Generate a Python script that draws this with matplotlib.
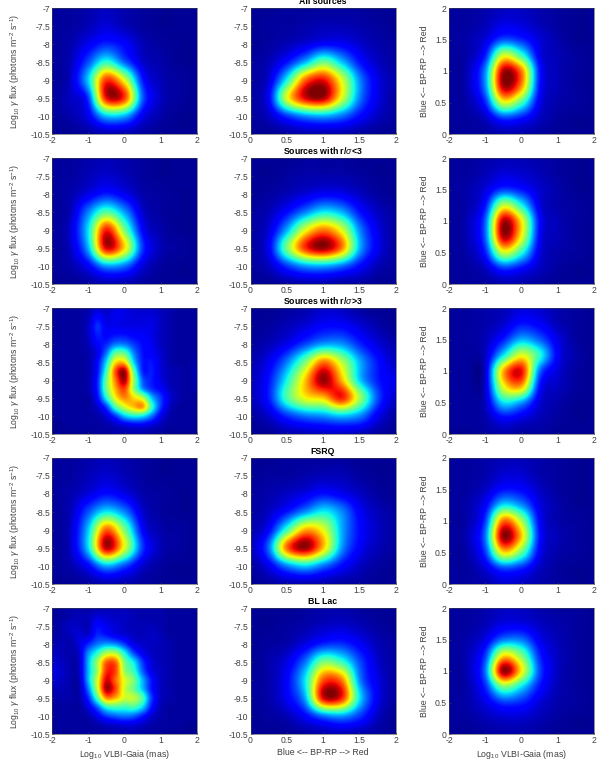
import matplotlib
matplotlib.use("Agg")
import matplotlib.pyplot as plt
import numpy as np

plt.rcParams["font.family"] = ["Liberation Sans", "DejaVu Sans"]
plt.rcParams["mathtext.fontset"] = "custom"
plt.rcParams["mathtext.rm"] = "Liberation Sans"
plt.rcParams["mathtext.it"] = "Liberation Sans:italic"
plt.rcParams["mathtext.bf"] = "Liberation Sans:bold"

flux_ticks = [-7, -7.5, -8, -8.5, -9, -9.5, -10, -10.5]
flux_labels = ["-7", "-7.5", "-8", "-8.5", "-9", "-9.5", "-10", "-10.5"]
offset_ticks = [-2, -1, 0, 1, 2]
offset_labels = ["-2", "-1", "0", "1", "2"]
color_ticks = [0, 0.5, 1, 1.5, 2]
color_labels = ["0", "0.5", "1", "1.5", "2"]

titles = ["All sources", "Sources with r/$\\sigma$<3", "Sources with r/$\\sigma$>3", "FSRQ", "BL Lac"]

# relative density (jet scale 0-100)
# rows run top to bottom, columns left to right, evenly over each axis
all_offset_flux = [
    [3, 3, 4, 6, 4, 3, 2, 2, 2],
    [3, 3, 5, 8, 5, 3, 2, 2, 2],
    [3, 4, 10, 16, 12, 5, 3, 2, 2],
    [3, 5, 20, 40, 22, 7, 4, 2, 2],
    [3, 6, 33, 85, 62, 15, 5, 3, 2],
    [3, 6, 18, 90, 85, 22, 6, 3, 2],
    [3, 4, 10, 32, 30, 10, 4, 2, 2],
    [2, 2, 3, 4, 4, 3, 2, 2, 2],
]
all_color_flux = [
    [2, 2, 3, 3, 3, 3, 3, 2, 2],
    [2, 3, 3, 4, 5, 5, 4, 3, 2],
    [2, 3, 5, 8, 12, 11, 7, 4, 3],
    [3, 5, 14, 30, 48, 32, 14, 6, 3],
    [3, 8, 38, 80, 90, 62, 26, 9, 4],
    [3, 12, 62, 92, 96, 62, 25, 9, 3],
    [3, 6, 18, 27, 30, 24, 13, 6, 3],
    [2, 2, 3, 4, 4, 4, 3, 2, 2],
]
all_offset_color = [
    [3, 3, 4, 6, 6, 4, 3, 2, 2],
    [3, 3, 5, 9, 8, 5, 3, 2, 2],
    [3, 4, 8, 20, 16, 8, 4, 2, 2],
    [3, 4, 15, 60, 42, 10, 5, 3, 2],
    [3, 5, 26, 95, 78, 15, 5, 3, 2],
    [3, 5, 26, 95, 75, 14, 5, 3, 2],
    [3, 4, 16, 62, 44, 10, 4, 3, 2],
    [3, 3, 6, 18, 14, 6, 3, 2, 2],
    [2, 3, 3, 4, 4, 3, 2, 2, 2],
]
low_offset_flux = [
    [3, 3, 4, 5, 4, 3, 2, 2, 2],
    [3, 3, 5, 7, 5, 3, 2, 2, 2],
    [3, 4, 9, 15, 10, 4, 3, 2, 2],
    [3, 5, 25, 45, 28, 7, 3, 2, 2],
    [3, 7, 35, 88, 50, 12, 4, 2, 2],
    [3, 6, 30, 92, 68, 18, 5, 3, 2],
    [3, 4, 11, 28, 24, 8, 3, 2, 2],
    [2, 2, 3, 4, 4, 3, 2, 2, 2],
]
low_color_flux = [
    [2, 2, 2, 3, 3, 3, 2, 2, 2],
    [2, 2, 3, 4, 4, 4, 3, 2, 2],
    [2, 3, 5, 8, 11, 10, 6, 3, 2],
    [3, 5, 13, 25, 36, 30, 14, 6, 3],
    [3, 8, 30, 62, 78, 62, 26, 9, 3],
    [3, 11, 50, 86, 98, 78, 30, 10, 3],
    [3, 6, 18, 28, 30, 24, 13, 5, 3],
    [2, 2, 3, 4, 4, 3, 3, 2, 2],
]
low_offset_color = [
    [3, 3, 4, 5, 5, 4, 3, 2, 2],
    [3, 3, 5, 8, 7, 5, 3, 2, 2],
    [3, 4, 8, 18, 14, 7, 4, 2, 2],
    [3, 4, 14, 58, 38, 9, 4, 3, 2],
    [3, 5, 22, 95, 66, 13, 5, 3, 2],
    [3, 5, 22, 95, 64, 12, 5, 3, 2],
    [3, 4, 15, 60, 40, 9, 4, 3, 2],
    [3, 3, 6, 18, 13, 6, 3, 2, 2],
    [2, 3, 3, 4, 4, 3, 2, 2, 2],
]
# this panel has more structure, so it was read on a finer grid
high_offset_flux = [
    [3, 3, 3, 3, 4, 7, 6, 9, 9, 7, 7, 7, 5, 4, 3, 3, 3],
    [3, 3, 3, 3, 5, 12, 8, 10, 9, 8, 8, 8, 6, 4, 3, 3, 3],
    [3, 3, 3, 3, 6, 17, 10, 10, 9, 9, 9, 9, 6, 4, 3, 3, 3],
    [3, 3, 3, 3, 6, 15, 12, 14, 14, 12, 11, 9, 6, 4, 3, 3, 3],
    [3, 3, 3, 3, 5, 12, 16, 24, 24, 18, 13, 10, 6, 4, 3, 3, 3],
    [3, 3, 3, 3, 4, 9, 24, 46, 46, 26, 14, 11, 7, 4, 3, 3, 3],
    [3, 3, 3, 3, 4, 12, 34, 66, 68, 34, 15, 14, 8, 4, 3, 3, 4],
    [3, 3, 3, 3, 4, 13, 42, 82, 96, 48, 16, 15, 8, 5, 4, 3, 5],
    [3, 3, 3, 3, 4, 15, 48, 78, 96, 55, 22, 15, 9, 5, 4, 3, 5],
    [3, 3, 3, 3, 4, 15, 48, 72, 84, 54, 28, 17, 12, 6, 4, 3, 4],
    [3, 3, 3, 3, 3, 12, 38, 64, 76, 68, 58, 32, 18, 8, 4, 3, 3],
    [3, 3, 3, 3, 3, 7, 18, 44, 60, 70, 74, 42, 18, 6, 3, 3, 3],
    [3, 3, 3, 3, 3, 4, 8, 18, 32, 38, 36, 24, 10, 4, 3, 3, 3],
    [2, 2, 3, 3, 3, 3, 4, 6, 9, 11, 11, 8, 5, 3, 3, 3, 2],
    [2, 2, 2, 2, 2, 3, 3, 4, 4, 4, 4, 3, 3, 2, 2, 2, 2],
]
high_color_flux = [
    [2, 2, 3, 4, 7, 6, 3, 2, 2],
    [2, 3, 5, 8, 12, 12, 8, 4, 2],
    [3, 5, 10, 19, 28, 27, 16, 8, 4],
    [4, 10, 25, 50, 78, 58, 30, 14, 6],
    [5, 14, 38, 70, 98, 72, 33, 15, 9],
    [5, 15, 44, 64, 70, 88, 55, 20, 6],
    [3, 7, 17, 24, 27, 32, 26, 10, 3],
    [2, 2, 4, 5, 6, 6, 5, 3, 2],
]
high_offset_color = [
    [3, 3, 4, 5, 8, 7, 4, 3, 2],
    [3, 3, 4, 7, 14, 11, 5, 3, 2],
    [3, 3, 5, 15, 30, 22, 9, 3, 2],
    [3, 3, 6, 35, 62, 40, 11, 4, 2],
    [3, 3, 7, 72, 90, 24, 8, 3, 2],
    [3, 3, 7, 62, 72, 14, 6, 3, 2],
    [3, 3, 6, 35, 28, 8, 4, 2, 2],
    [3, 3, 4, 12, 9, 5, 3, 2, 2],
    [2, 2, 3, 4, 3, 3, 2, 2, 2],
]
fsrq_offset_flux = [
    [3, 3, 4, 5, 4, 3, 2, 2, 2],
    [3, 3, 5, 7, 5, 3, 2, 2, 2],
    [3, 4, 8, 13, 9, 4, 3, 2, 2],
    [3, 5, 20, 35, 25, 7, 3, 2, 2],
    [3, 6, 32, 80, 50, 12, 4, 3, 2],
    [3, 6, 34, 95, 62, 18, 5, 3, 2],
    [3, 4, 12, 30, 20, 7, 3, 2, 2],
    [2, 2, 3, 4, 4, 3, 2, 2, 2],
]
fsrq_color_flux = [
    [2, 2, 3, 3, 3, 3, 2, 2, 2],
    [2, 3, 3, 4, 5, 5, 3, 2, 2],
    [3, 4, 6, 9, 13, 10, 6, 3, 2],
    [3, 6, 14, 26, 36, 26, 11, 5, 3],
    [4, 12, 42, 72, 62, 30, 13, 6, 3],
    [5, 24, 80, 98, 70, 28, 11, 5, 3],
    [3, 10, 26, 34, 24, 13, 6, 3, 2],
    [2, 3, 4, 4, 4, 3, 3, 2, 2],
]
fsrq_offset_color = [
    [3, 3, 4, 5, 5, 4, 3, 2, 2],
    [3, 3, 4, 7, 7, 4, 3, 2, 2],
    [3, 3, 6, 13, 12, 6, 3, 2, 2],
    [3, 4, 11, 34, 26, 9, 4, 2, 2],
    [3, 4, 18, 78, 55, 12, 4, 3, 2],
    [3, 5, 24, 98, 70, 14, 5, 3, 2],
    [3, 4, 18, 68, 48, 11, 4, 3, 2],
    [3, 3, 8, 20, 16, 6, 3, 2, 2],
    [3, 3, 4, 7, 6, 4, 3, 2, 2],
]
bllac_offset_flux = [
    [3, 3, 4, 4, 4, 4, 5, 5, 5, 4, 4, 4, 4, 3, 3, 3, 3],
    [3, 3, 4, 5, 5, 8, 7, 6, 6, 5, 4, 4, 4, 3, 3, 3, 3],
    [3, 4, 6, 6, 5, 13, 10, 8, 6, 5, 5, 5, 4, 3, 3, 3, 3],
    [3, 4, 5, 8, 7, 16, 14, 10, 8, 6, 5, 6, 5, 3, 3, 3, 3],
    [4, 5, 4, 8, 16, 24, 28, 26, 18, 9, 7, 6, 5, 4, 3, 3, 3],
    [6, 5, 4, 7, 26, 40, 56, 56, 38, 20, 10, 6, 5, 4, 3, 3, 3],
    [7, 6, 4, 6, 30, 54, 80, 80, 50, 36, 18, 8, 5, 4, 3, 3, 3],
    [9, 7, 4, 6, 30, 54, 86, 84, 54, 42, 22, 9, 6, 4, 3, 3, 3],
    [8, 6, 4, 5, 30, 60, 92, 80, 62, 50, 30, 14, 6, 4, 3, 3, 3],
    [5, 5, 4, 4, 24, 58, 96, 84, 60, 48, 32, 14, 6, 4, 3, 3, 3],
    [4, 4, 4, 4, 16, 44, 76, 72, 60, 58, 44, 18, 6, 4, 3, 3, 3],
    [3, 3, 3, 3, 9, 22, 40, 44, 42, 44, 34, 14, 5, 3, 3, 3, 3],
    [3, 3, 3, 3, 4, 10, 18, 22, 24, 22, 15, 7, 4, 3, 3, 3, 3],
    [2, 3, 3, 3, 3, 4, 6, 7, 8, 8, 6, 4, 3, 3, 3, 2, 2],
    [2, 2, 2, 3, 3, 3, 3, 4, 4, 4, 3, 3, 3, 2, 2, 2, 2],
]
bllac_color_flux = [
    [2, 2, 2, 3, 4, 4, 3, 2, 2],
    [2, 2, 3, 4, 6, 7, 5, 3, 2],
    [2, 3, 4, 9, 16, 17, 11, 5, 3],
    [2, 4, 9, 24, 50, 42, 20, 7, 3],
    [3, 4, 12, 36, 82, 78, 26, 9, 3],
    [3, 4, 11, 30, 92, 88, 35, 10, 3],
    [2, 3, 5, 12, 24, 28, 18, 6, 2],
    [2, 2, 2, 3, 4, 5, 4, 3, 2],
]
bllac_offset_color = [
    [3, 3, 4, 6, 6, 4, 3, 3, 2],
    [3, 3, 5, 9, 9, 6, 4, 3, 2],
    [3, 4, 9, 24, 24, 10, 5, 3, 2],
    [3, 5, 18, 66, 50, 16, 6, 3, 2],
    [3, 5, 24, 98, 66, 20, 6, 3, 2],
    [3, 4, 16, 50, 35, 14, 5, 3, 2],
    [3, 4, 9, 18, 16, 8, 4, 3, 2],
    [3, 3, 5, 7, 7, 5, 3, 2, 2],
    [2, 2, 3, 4, 4, 3, 2, 2, 2],
]

panels = [
    [all_offset_flux, all_color_flux, all_offset_color],
    [low_offset_flux, low_color_flux, low_offset_color],
    [high_offset_flux, high_color_flux, high_offset_color],
    [fsrq_offset_flux, fsrq_color_flux, fsrq_offset_color],
    [bllac_offset_flux, bllac_color_flux, bllac_offset_color],
]

W, H = 606, 763
col_left = [52, 250.5, 449]
ax_w, ax_h = 145, 126
row_top = [8, 158, 308, 458, 608]
col_xlim = [(-2, 2), (0, 2), (-2, 2)]
col_ylim = [(-10.5, -7), (-10.5, -7), (0, 2)]
grey = "#404040"
flux_label = "Log$_{10}$ $\\gamma$ flux (photons m$^{-2}$ s$^{-1}$)"

fig = plt.figure(figsize=(W / 100, H / 100), dpi=100)

for r, top in enumerate(row_top):
    for c, left in enumerate(col_left):
        ax = fig.add_axes([left / W, 1 - (top + ax_h) / H, ax_w / W, ax_h / H])
        density = np.array(panels[r][c])
        x0, x1 = col_xlim[c]
        y0, y1 = col_ylim[c]
        # the values sit on the nodes, so the image reaches half a cell past the axes
        dx = (x1 - x0) / (density.shape[1] - 1) / 2
        dy = (y1 - y0) / (density.shape[0] - 1) / 2
        ax.imshow(density, cmap="jet", vmin=0, vmax=100, aspect="auto",
                  interpolation="catrom",
                  extent=[x0 - dx, x1 + dx, y0 - dy, y1 + dy])
        ax.set_xlim(x0, x1)
        ax.set_ylim(y0, y1)
        if c == 1:
            ax.set_xticks(color_ticks, color_labels)
        else:
            ax.set_xticks(offset_ticks, offset_labels)
        if c == 2:
            ax.set_yticks(color_ticks, color_labels)
            ax.set_ylabel("Blue <-- BP-RP --> Red", fontsize=6.3, color=grey)
            ax.yaxis.set_label_coords(-0.138, 0.5)
        else:
            ax.set_yticks(flux_ticks, flux_labels)
        if c == 0:
            ax.set_ylabel(flux_label, fontsize=6.2, color=grey)
            ax.yaxis.set_label_coords(-0.207, 0.5)
        ax.tick_params(direction="in", length=1.5, width=0.4, labelsize=6.2,
                       colors=grey, pad=1.5, top=False, right=False)
        for s in ax.spines.values():
            s.set_linewidth(0.4)
            s.set_color(grey)
        if c == 1:
            ax.set_title(titles[r], fontsize=6.3, fontweight="bold", pad=3, color="black")
        if r == 4:
            name = "Blue <-- BP-RP --> Red" if c == 1 else "Log$_{10}$ VLBI-Gaia (mas)"
            ax.set_xlabel(name, fontsize=6.3, color=grey)
            ax.xaxis.set_label_coords(0.5, -0.11)

fig.savefig("out.png", dpi=100)
